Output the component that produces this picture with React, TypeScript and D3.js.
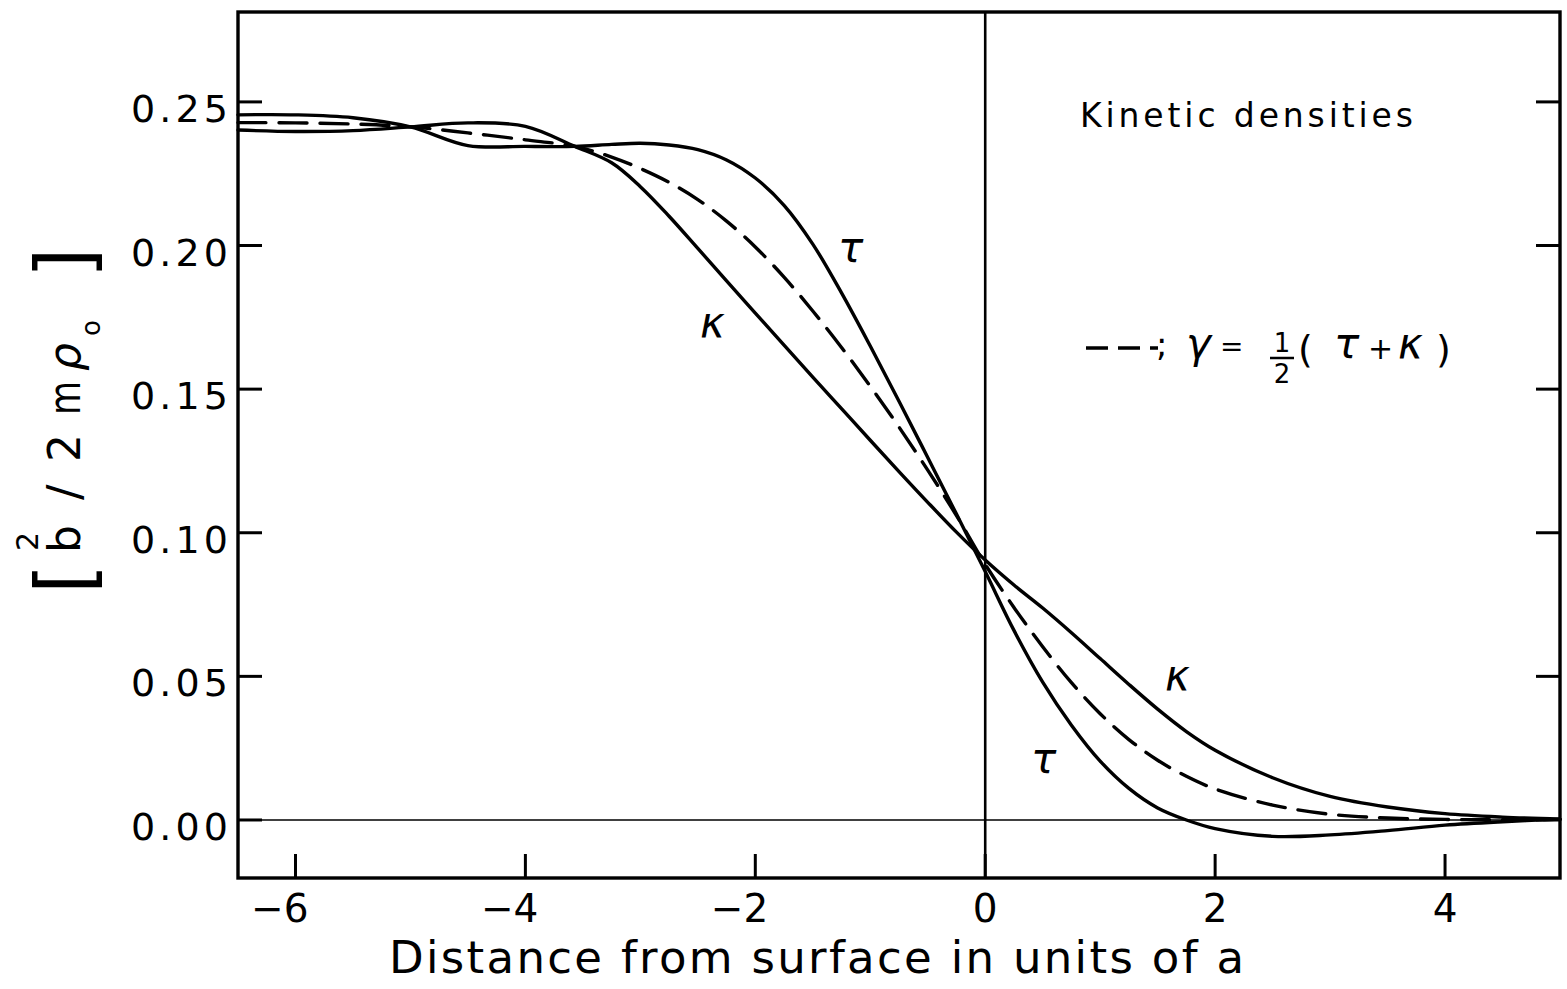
import React, { useRef, useEffect } from 'react';
import * as d3 from 'd3';

// distance from surface (units of a)
const distances = [
	-6.5, -6, -5.5, -5, -4.5, -4, -3.57, -3.25, -3, -2.75, -2.5, -2.25, -2, -1.75, -1.5,
	-1.25, -1, -0.75, -0.5, -0.25, 0, 0.25, 0.5, 0.75, 1, 1.25, 1.5, 1.75, 2, 2.5, 3,
	3.5, 4, 4.5, 5,
];

const tau = [
	0.2455, 0.2455, 0.2445, 0.2413, 0.2348, 0.2345, 0.2345, 0.2352, 0.2356, 0.235, 0.2334,
	0.2298, 0.2235, 0.214, 0.2005, 0.1835, 0.165, 0.1458, 0.1262, 0.1065, 0.0865, 0.066,
	0.048, 0.033, 0.0205, 0.011, 0.0042, 0.0, -0.003, -0.0057, -0.0052, -0.0037, -0.0018,
	-0.0006, 0.0003,
];

const kappa = [
	0.2402, 0.2397, 0.24, 0.2413, 0.2427, 0.2415, 0.2345, 0.2288, 0.2205, 0.2102, 0.199,
	0.1877, 0.1765, 0.1653, 0.1542, 0.1432, 0.1322, 0.1213, 0.1106, 0.1002, 0.0905, 0.0818,
	0.0738, 0.0652, 0.0562, 0.0472, 0.0386, 0.0308, 0.0243, 0.0147, 0.0082, 0.0045, 0.0022,
	0.001, 0.0003,
];

const gamma = [
	0.2428, 0.2427, 0.2423, 0.2413, 0.2392, 0.2368, 0.2345, 0.2308, 0.2268, 0.222, 0.216,
	0.2085, 0.1995, 0.189, 0.1772, 0.1645, 0.151, 0.1368, 0.1218, 0.106, 0.089, 0.074,
	0.0603, 0.0478, 0.037, 0.028, 0.0208, 0.0152, 0.0108, 0.0052, 0.002, 0.0007, 0.0002,
	0.0001, 0.0002,
];

const xTicks = [-6, -4, -2, 0, 2, 4];
const xTickLabels = ['\u22126', '\u22124', '\u22122', '0', '2', '4'];
const yTicks = [0, 0.05, 0.1, 0.15, 0.2, 0.25];
const yTickLabels = ['0.00', '0.05', '0.10', '0.15', '0.20', '0.25'];

const width = 1567;
const height = 989;
const frame = { left: 238, right: 1560, top: 12, bottom: 878 };
const font = '"DejaVu Sans", sans-serif';

const renderChart = (ref) => {
	const svg = d3.select(ref.current);
	svg.selectAll('*').remove();

	const x = d3.scaleLinear().domain([-6.5, 5]).range([frame.left, frame.right]);
	const y = d3.scaleLinear().domain([-0.0202, 0.2813]).range([frame.bottom, frame.top]);

	const line = d3.line()
		.x((d) => x(d[0]))
		.y((d) => y(d[1]))
		.curve(d3.curveCatmullRom.alpha(0.5));

	const g = svg.append('g');

	// zero lines
	g.append('line')
		.attr('x1', frame.left).attr('x2', frame.right)
		.attr('y1', y(0)).attr('y2', y(0))
		.attr('stroke', '#000').attr('stroke-width', 1.6);
	g.append('line')
		.attr('x1', x(0)).attr('x2', x(0))
		.attr('y1', frame.top).attr('y2', frame.bottom)
		.attr('stroke', '#000').attr('stroke-width', 2.6);

	const series = [
		{ name: 'tau', values: tau, dash: null },
		{ name: 'kappa', values: kappa, dash: null },
		{ name: 'gamma', values: gamma, dash: '28 13' },
	];

	series.forEach((s) => {
		g.append('path')
			.attr('d', line(distances.map((d, i) => [d, s.values[i]])))
			.attr('fill', 'none')
			.attr('stroke', '#000')
			.attr('stroke-width', 3.4)
			.attr('stroke-linecap', 'round')
			.attr('stroke-dasharray', s.dash);
	});

	// frame
	g.append('rect')
		.attr('x', frame.left).attr('y', frame.top)
		.attr('width', frame.right - frame.left)
		.attr('height', frame.bottom - frame.top)
		.attr('fill', 'none').attr('stroke', '#000').attr('stroke-width', 3.4);

	// y ticks, inside on both sides
	yTicks.forEach((t, i) => {
		g.append('line')
			.attr('x1', frame.left).attr('x2', frame.left + 24)
			.attr('y1', y(t)).attr('y2', y(t))
			.attr('stroke', '#000').attr('stroke-width', 3);
		g.append('line')
			.attr('x1', frame.right - 24).attr('x2', frame.right)
			.attr('y1', y(t)).attr('y2', y(t))
			.attr('stroke', '#000').attr('stroke-width', 3);
		g.append('text')
			.attr('x', 131).attr('y', y(t) + 20)
			.attr('font-family', font).attr('font-size', 38)
			.attr('textLength', 97).attr('lengthAdjust', 'spacing')
			.text(yTickLabels[i]);
	});

	// x ticks
	xTicks.forEach((t, i) => {
		g.append('line')
			.attr('x1', x(t)).attr('x2', x(t))
			.attr('y1', frame.bottom).attr('y2', frame.bottom - 24)
			.attr('stroke', '#000').attr('stroke-width', 3);
		g.append('text')
			.attr('x', t < 0 ? x(t) + 13 : x(t))
			.attr('y', 922)
			.attr('text-anchor', t < 0 ? 'end' : 'middle')
			.attr('font-family', font).attr('font-size', 39)
			.text(xTickLabels[i]);
	});

	// x axis title
	g.append('text')
		.attr('x', 389).attr('y', 973)
		.attr('font-family', font).attr('font-size', 45)
		.attr('textLength', 855).attr('lengthAdjust', 'spacing')
		.text('Distance  from  surface  in  units  of  a');

	// y axis title, rotated, built piece by piece
	const yl = g.append('g').attr('transform', 'rotate(-90)');
	const piece = (txt, sy, sx, size, italic = false, len = null) => {
		const t = yl.append('text')
			.attr('x', -sy).attr('y', sx)
			.attr('font-family', font).attr('font-size', size)
			.attr('font-style', italic ? 'italic' : 'normal')
			.text(txt);
		if (len) t.attr('textLength', len).attr('lengthAdjust', 'spacingAndGlyphs');
		return t;
	};
	piece('[', 594, 92, 78);
	piece('b', 553, 80, 44);
	piece('2', 551, 38, 30);
	piece('/', 500, 80, 46);
	piece('2', 462, 80, 44);
	piece('m', 415, 80, 44, false, 34);
	piece('\u03c1', 371, 80, 44, true);
	piece('o', 336, 100, 26);
	piece(']', 278, 92, 78);

	// annotations
	g.append('text')
		.attr('x', 1080).attr('y', 127)
		.attr('font-family', font).attr('font-size', 33)
		.attr('textLength', 333).attr('lengthAdjust', 'spacing')
		.text('Kinetic  densities');

	const greek = (txt, gx, gy, size = 42) => g.append('text')
		.attr('x', gx).attr('y', gy)
		.attr('font-family', font).attr('font-size', size)
		.attr('font-style', 'italic')
		.text(txt);
	greek('\u03c4', 838, 262);
	greek('\u03ba', 700, 337);
	greek('\u03ba', 1165, 690);
	greek('\u03c4', 1031, 773);

	// legend
	g.append('line')
		.attr('x1', 1086).attr('x2', 1158)
		.attr('y1', 348).attr('y2', 348)
		.attr('stroke', '#000').attr('stroke-width', 3.4)
		.attr('stroke-dasharray', '22 10');
	const plain = (txt, px, py, size, anchor = 'start') => g.append('text')
		.attr('x', px).attr('y', py)
		.attr('font-family', font).attr('font-size', size)
		.attr('text-anchor', anchor)
		.text(txt);
	plain(';', 1156, 356, 34);
	greek('\u03b3', 1186, 358, 42);
	plain('=', 1220, 356, 28);
	plain('1', 1282, 352, 26, 'middle');
	g.append('line')
		.attr('x1', 1270).attr('x2', 1294)
		.attr('y1', 358).attr('y2', 358)
		.attr('stroke', '#000').attr('stroke-width', 2.5);
	plain('2', 1282, 383, 26, 'middle');
	plain('(', 1298, 362, 38);
	greek('\u03c4', 1334, 358, 42);
	plain('+', 1368, 359, 30);
	greek('\u03ba', 1398, 358, 42);
	plain(')', 1436, 362, 38);
};

const App = () => {
	const ref = useRef(null);

	useEffect(() => {
		renderChart(ref);
	}, []);

	return (
		<div>
			<svg
				ref={ ref }
				width={ width }
				height={ height }
				style={{ position: 'absolute', left: 0, top: 0, background: '#fff' }}
			/>
		</div>
	);
};

export default App;
